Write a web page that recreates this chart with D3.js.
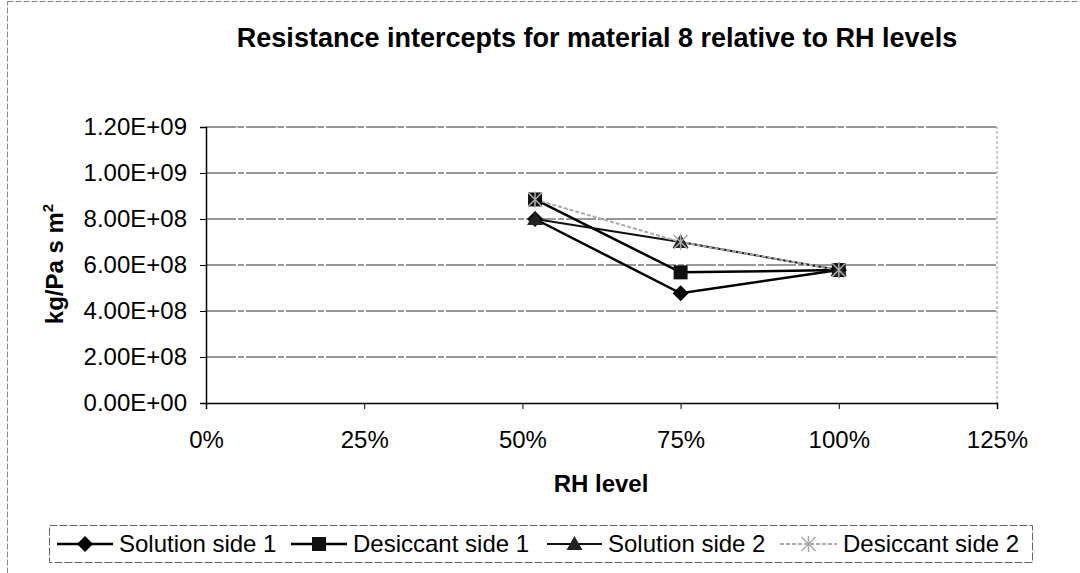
<!DOCTYPE html>
<html><head><meta charset="utf-8">
<script src="https://cdn.jsdelivr.net/npm/d3@7"></script>
<style>html,body{margin:0;padding:0;background:#fff;}svg{display:block;}</style>
</head><body>
<svg id="chart" width="1080" height="573"></svg>
<script>
const rhLevels = [0.52, 0.75, 1.00];
const seriesNames = ["Solution side 1", "Desiccant side 1", "Solution side 2", "Desiccant side 2"];
const solutionSide1 = [8.0e8, 4.77e8, 5.78e8];
const desiccantSide1 = [8.85e8, 5.68e8, 5.78e8];
const solutionSide2 = [8.0e8, 7.0e8, 5.78e8];
const desiccantSide2 = [8.85e8, 7.0e8, 5.78e8];
const yTicks = [0, 2e8, 4e8, 6e8, 8e8, 1.0e9, 1.2e9];
const yTickLabels = ["0.00E+00","2.00E+08","4.00E+08","6.00E+08","8.00E+08","1.00E+09","1.20E+09"];
const xTicks = [0, 0.25, 0.5, 0.75, 1.0, 1.25];
const xTickLabels = ["0%","25%","50%","75%","100%","125%"];

const svg = d3.select("#chart");
const font = "Arial, 'Liberation Sans', sans-serif";
const L = 206, R = 997, T = 127, B = 403;
const x = d3.scaleLinear().domain([0, 1.25]).range([L, R]);
const y = d3.scaleLinear().domain([0, 1.2e9]).range([B, T]);

svg.append("rect").attr("x", 7.5).attr("y", 1.5).attr("width", 1090).attr("height", 620)
  .attr("fill", "none").attr("stroke", "#888").attr("stroke-width", 1).attr("stroke-dasharray", "6,2");

svg.append("text").attr("x", 597).attr("y", 47).attr("text-anchor", "middle")
  .attr("font-family", font).attr("font-weight", "bold").attr("font-size", 27)
  .text("Resistance intercepts for material 8 relative to RH levels");

svg.append("g").selectAll("line").data(yTicks.slice(1)).join("line")
  .attr("x1", L).attr("x2", R).attr("y1", d => y(d)).attr("y2", d => y(d))
  .attr("stroke", "#333").attr("stroke-width", 1).attr("stroke-dasharray", "30,2,6,2");

svg.append("path").attr("d", `M${L},${T}H${R}V${B}`).attr("fill", "none")
  .attr("stroke", "#999").attr("stroke-width", 1).attr("stroke-dasharray", "3,2");

const yAxis = d3.axisLeft(y).tickValues(yTicks).tickFormat((d, i) => yTickLabels[i]).tickSize(6).tickPadding(13);
const gy = svg.append("g").attr("transform", `translate(${L},0)`).call(yAxis);
const xAxis = d3.axisBottom(x).tickValues(xTicks).tickFormat((d, i) => xTickLabels[i]).tickSize(6).tickPadding(22);
const gx = svg.append("g").attr("transform", `translate(0,${B})`).call(xAxis);
[gx, gy].forEach(g => {
  g.selectAll("path.domain").attr("stroke", "#000").attr("stroke-width", 1.5);
  g.selectAll(".tick line").attr("stroke", "#000");
  g.selectAll("text").attr("font-family", font).attr("font-size", 24).attr("fill", "#000");
});

svg.append("text").attr("x", 601).attr("y", 492).attr("text-anchor", "middle")
  .attr("font-family", font).attr("font-weight", "bold").attr("font-size", 24).text("RH level");
const yt = svg.append("text").attr("transform", "translate(63,264) rotate(-90)").attr("text-anchor", "middle")
  .attr("font-family", font).attr("font-weight", "bold").attr("font-size", 24);
yt.append("tspan").text("kg/Pa s m");
yt.append("tspan").attr("font-size", 15).attr("dy", -10).text("2");

const series = [
  {name: seriesNames[0], values: solutionSide1, color: "#000", dash: null, width: 2.5, sym: "diamond"},
  {name: seriesNames[1], values: desiccantSide1, color: "#000", dash: null, width: 2.5, sym: "square"},
  {name: seriesNames[2], values: solutionSide2, color: "#111", dash: null, width: 2, sym: "triangle"},
  {name: seriesNames[3], values: desiccantSide2, color: "#aaa", dash: "4,2", width: 2, sym: "star"}
];
const line = d3.line().x((d, i) => x(rhLevels[i])).y(d => y(d));

function marker(g, sym, cx, cy, color) {
  if (sym === "diamond") {
    g.append("path").attr("d", `M${cx},${cy-8}L${cx+8},${cy}L${cx},${cy+8}L${cx-8},${cy}Z`).attr("fill", "#000");
  } else if (sym === "square") {
    g.append("rect").attr("x", cx-7).attr("y", cy-7).attr("width", 14).attr("height", 14).attr("fill", "#111");
  } else if (sym === "triangle") {
    g.append("path").attr("d", `M${cx},${cy-8}L${cx+8},${cy+6}L${cx-8},${cy+6}Z`).attr("fill", "#222");
  } else {
    g.append("path").attr("d", `M${cx-7},${cy-7}L${cx+7},${cy+7}M${cx+7},${cy-7}L${cx-7},${cy+7}M${cx},${cy-8}V${cy+8}`)
      .attr("stroke", color).attr("stroke-width", 1.5).attr("fill", "none");
  }
}

const gs = svg.append("g");
series.forEach(s => {
  gs.append("path").datum(s.values).attr("d", line).attr("fill", "none")
    .attr("stroke", s.color).attr("stroke-width", s.width).attr("stroke-dasharray", s.dash);
});
series.forEach(s => {
  s.values.forEach((v, i) => marker(gs, s.sym, x(rhLevels[i]), y(v), s.color));
});

const lg = svg.append("g");
lg.append("rect").attr("x", 49.5).attr("y", 525.5).attr("width", 983).attr("height", 37)
  .attr("fill", "#fff").attr("stroke", "#666").attr("stroke-dasharray", "8,2");
const legendX = [57, 291, 547, 780];
const textX = [119, 353, 608, 843];
series.forEach((s, i) => {
  const ly = 544;
  lg.append("line").attr("x1", legendX[i]).attr("x2", textX[i] - 6).attr("y1", ly).attr("y2", ly)
    .attr("stroke", s.color).attr("stroke-width", s.width).attr("stroke-dasharray", s.dash);
  marker(lg, s.sym, (legendX[i] + textX[i] - 6) / 2, ly, s.color);
  lg.append("text").attr("x", textX[i]).attr("y", 552).attr("font-family", font).attr("font-size", 24).text(s.name);
});
</script>
</body></html>
